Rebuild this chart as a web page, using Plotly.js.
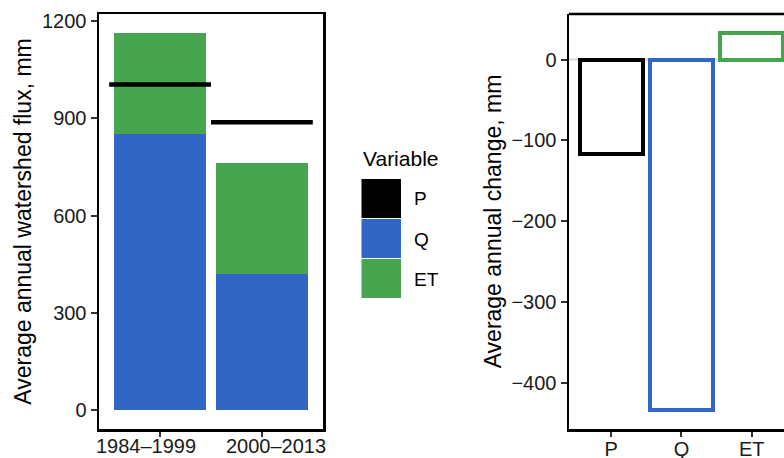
<!DOCTYPE html>
<html>
<head>
<meta charset="utf-8">
<script src="https://cdn.plot.ly/plotly-3.0.1.min.js"></script>
<style>html,body{margin:0;padding:0;background:#fff}#chart{width:784px;height:458px}</style>
</head>
<body>
<div id="chart"></div>
<script>
// ---- data ----
var periods = ["1984\u20131999", "2000\u20132013"];
var Q_flux = [852, 419];
var ET_flux = [312, 343];
var P_flux = [1005, 888];

var changeVars = ["P", "Q", "ET"];
var changeVals = [-117, -434, 33];

var legendVars = ["P", "Q", "ET"];
var varColors = {P: "#000000", Q: "#3166C5", ET: "#47A550"};

// ---- layout helpers ----
var W = 784, H = 458;
function px(x) { return x / W; }
function py(y) { return 1 - y / H; }

var idx = periods.map(function (_, i) { return i; });
var chgIdx = changeVars.map(function (_, i) { return i; });

var traces = [];
traces.push({type: "bar", x: idx, y: Q_flux, width: 0.9, marker: {color: varColors.Q, line: {width: 0}},
  xaxis: "x", yaxis: "y", showlegend: false, hoverinfo: "skip"});
traces.push({type: "bar", x: idx, y: ET_flux, width: 0.9, marker: {color: varColors.ET, line: {width: 0}},
  xaxis: "x", yaxis: "y", showlegend: false, hoverinfo: "skip"});

// P as horizontal segments across each period
var px_ = [], py_ = [];
P_flux.forEach(function (v, i) { px_.push(i - 0.5, i + 0.5, null); py_.push(v, v, null); });
traces.push({type: "scatter", mode: "lines", x: px_, y: py_, line: {color: varColors.P, width: 4.5},
  xaxis: "x", yaxis: "y", showlegend: false, hoverinfo: "skip", cliponaxis: false});

// change bars (outlined)
traces.push({type: "bar", x: chgIdx, y: changeVals, width: 0.9,
  marker: {color: "rgba(255,255,255,0)", line: {color: changeVars.map(function (v) { return varColors[v]; }), width: 4}},
  xaxis: "x2", yaxis: "y2", showlegend: false, hoverinfo: "skip", cliponaxis: false});

var fontFam = "Liberation Sans, Arial, sans-serif";
var tickFont = {family: fontFam, size: 20, color: "#1a1a1a"};
var titleFont = {family: fontFam, size: 23, color: "#000"};

var shapes = [];
var annotations = [];

// zero reference line in right panel
shapes.push({type: "line", xref: "x2 domain", yref: "y2", x0: 0, x1: 1, y0: 0, y1: 0,
  line: {color: "#d9d9d9", width: 2}, layer: "below"});
// top border of right panel
shapes.push({type: "line", xref: "paper", yref: "paper", x0: px(569), x1: 1, y0: py(14), y1: py(14),
  line: {color: "#000", width: 2.5}});

// period labels under the left panel (placed as in the reference, spread slightly apart)
var periodLabelX = [146, 276];
periods.forEach(function (p, i) {
  annotations.push({xref: "paper", yref: "paper", x: px(periodLabelX[i]), y: py(457.5), xanchor: "center", yanchor: "bottom",
    borderpad: 0, text: p, showarrow: false, font: tickFont});
});

// manual legend
var keyTop = 179, keyH = 40;
annotations.push({xref: "paper", yref: "paper", x: px(361), y: py(158), xanchor: "left", yanchor: "middle",
  text: "Variable", showarrow: false, font: {family: fontFam, size: 21, color: "#000"}});
legendVars.forEach(function (v, i) {
  var t = keyTop + i * keyH;
  shapes.push({type: "rect", xref: "paper", yref: "paper", x0: px(361.5), x1: px(401), y0: py(t), y1: py(t + keyH - 1),
    fillcolor: varColors[v], line: {color: "#ffffff", width: 0}});
  annotations.push({xref: "paper", yref: "paper", x: px(412), y: py(t + keyH / 2), xanchor: "left", yanchor: "middle",
    text: v, showarrow: false, font: {family: fontFam, size: 19, color: "#000"}});
});

var layout = {
  width: W, height: H,
  margin: {l: 0, r: 0, t: 0, b: 0},
  paper_bgcolor: "#fff", plot_bgcolor: "rgba(0,0,0,0)",
  barmode: "stack", bargap: 0,
  showlegend: false,
  xaxis: {domain: [px(99), px(323)], range: [-0.6, 1.6], tickmode: "array", tickvals: idx, ticktext: periods,
    showticklabels: false,
    showgrid: false, zeroline: false, showline: true, mirror: true, linecolor: "#000", linewidth: 2.5,
    ticks: "outside", ticklen: 5, tickwidth: 2, tickcolor: "#333", tickfont: tickFont, anchor: "y", fixedrange: true},
  yaxis: {domain: [py(429), py(14)], range: [-58.2, 1222.2], tickvals: [0, 300, 600, 900, 1200],
    showgrid: false, zeroline: false, showline: true, mirror: true, linecolor: "#000", linewidth: 2.5,
    ticks: "outside", ticklen: 6, tickwidth: 2, tickcolor: "#333", tickfont: tickFont, anchor: "x",
    title: {text: "Average annual watershed flux, mm", font: titleFont, standoff: 4}},
  xaxis2: {domain: [px(569), 1], range: [-0.6, 2.458], tickmode: "array", tickvals: chgIdx, ticktext: changeVars,
    tickangle: 0, ticklabelstandoff: -5,
    showgrid: false, zeroline: false, showline: true, linecolor: "#000", linewidth: 2.5,
    ticks: "outside", ticklen: 5, tickwidth: 2, tickcolor: "#333", tickfont: tickFont, anchor: "y2", fixedrange: true},
  yaxis2: {domain: [py(429), py(14)], range: [-457.2, 56.4], tickvals: [-400, -300, -200, -100, 0],
    showgrid: false, zeroline: false, showline: true, linecolor: "#000", linewidth: 2.5,
    ticks: "outside", ticklen: 6, tickwidth: 2, tickcolor: "#333", tickfont: tickFont, anchor: "x2",
    title: {text: "Average annual change, mm", font: titleFont, standoff: 4}},
  shapes: shapes,
  annotations: annotations
};

Plotly.newPlot("chart", traces, layout, {displayModeBar: false, staticPlot: true});
</script>
</body>
</html>
